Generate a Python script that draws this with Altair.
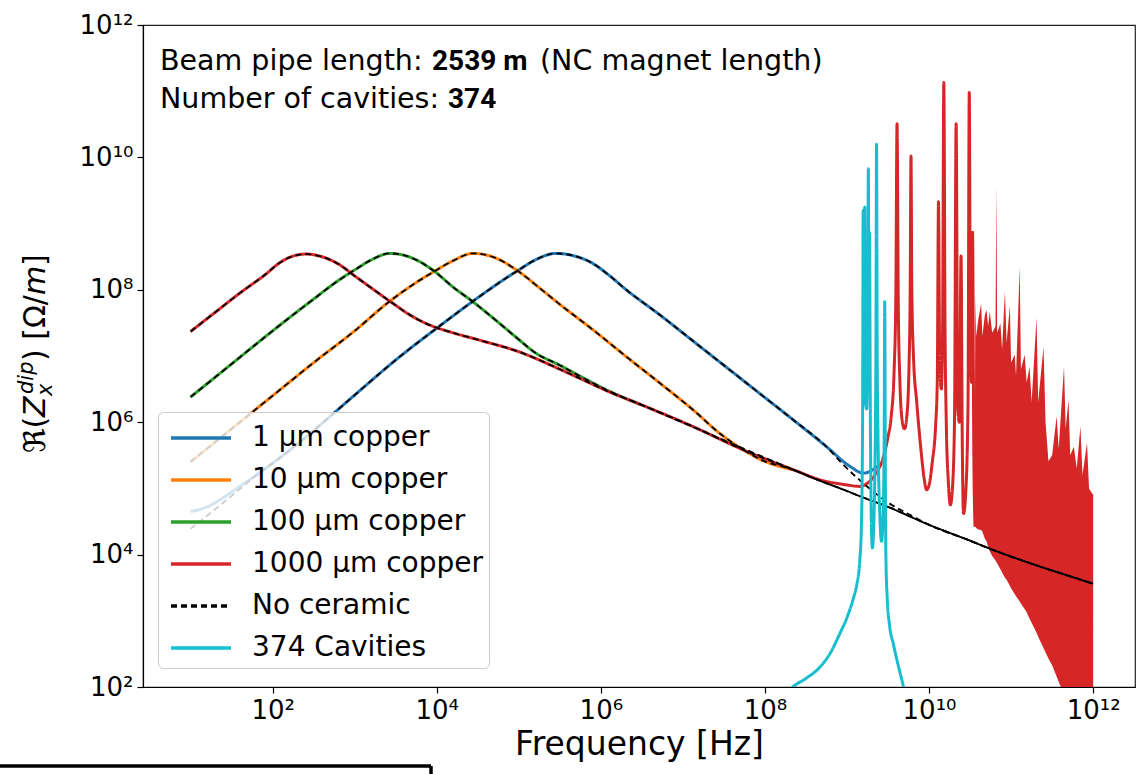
import altair as alt
import pandas as pd

# ---------------------------------------------------------------------------
# Series definitions (legend order, colours, dash patterns)
# ---------------------------------------------------------------------------
SERIES = ["1 µm copper", "10 µm copper", "100 µm copper", "1000 µm copper",
          "No ceramic", "374 Cavities"]
COLORS = ["#1f77b4", "#ff7f0e", "#2ca02c", "#d62728", "#000000", "#17becf"]
DASHES = [[1, 0], [1, 0], [1, 0], [1, 0], [6, 4], [1, 0]]

# Values are stored as decade exponents:
#   *_f -> log10(frequency / Hz),  *_z -> log10(Re Z / (Ohm/m))

cu1_f = [1.0, 1.2, 1.4, 1.6, 1.8, 2.0, 2.4, 2.74, 3.0, 3.55, 4.0, 4.5, 4.8, 5.0,
         5.2, 5.45, 5.65, 5.9, 6.1, 6.31, 6.72, 7.13, 7.53, 7.94, 8.35, 8.75,
         9.04, 9.2, 9.4]
cu1_z = [4.65, 4.72, 4.86, 5.03, 5.2, 5.38, 5.77, 6.13, 6.41, 6.99, 7.42, 7.88,
         8.14, 8.3, 8.45, 8.55, 8.52, 8.4, 8.22, 8.0, 7.62, 7.22, 6.83, 6.43,
         6.03, 5.63, 5.33, 5.23, 5.36]

cu10_f = [1.0, 1.5, 2.0, 2.5, 3.0, 3.43, 3.8, 4.0, 4.2, 4.44, 4.7, 4.97, 5.3,
          5.5, 5.91, 6.31, 6.72, 7.13, 7.45, 7.74, 7.94, 8.35]
cu10_z = [5.40, 5.90, 6.40, 6.90, 7.38, 7.83, 8.15, 8.30, 8.44, 8.55, 8.49,
          8.30, 7.98, 7.78, 7.39, 6.99, 6.59, 6.18, 5.83, 5.58, 5.44, 5.28]

cu100_f = [1.0, 1.5, 2.0, 2.5, 2.8, 3.0, 3.2, 3.43, 3.7, 3.95, 4.2, 4.44, 4.71,
           4.97, 5.2, 5.5, 5.8, 6.1, 6.48]
cu100_z = [6.38, 6.88, 7.38, 7.86, 8.14, 8.30, 8.45, 8.55, 8.48, 8.30, 8.04,
           7.82, 7.55, 7.28, 7.05, 6.86, 6.66, 6.47, 6.27]

cu1000_f = [1.0, 1.3, 1.6, 1.9, 2.1, 2.25, 2.41, 2.6, 2.8, 3.0, 3.2, 3.46, 3.7,
            3.91, 4.2, 4.52, 5.01, 5.5, 5.8, 6.1, 6.48, 7.13, 7.74, 8.35, 8.7,
            8.96, 9.16, 9.25, 9.35, 9.45,
            9.50, 9.54, 9.575, 9.595, 9.61, 9.625, 9.645, 9.67, 9.70, 9.73,
            9.755, 9.77, 9.78, 9.79, 9.81, 9.85, 9.90, 9.94, 9.97, 10.0,
            10.04, 10.08, 10.10, 10.115, 10.13, 10.15, 10.165, 10.18, 10.195, 10.21,
            10.235, 10.26, 10.285, 10.31, 10.33, 10.35, 10.37, 10.39, 10.405, 10.42,
            10.45, 10.475, 10.49, 10.505, 10.52, 10.53, 10.545, 10.56]
cu1000_z = [7.37, 7.66, 7.95, 8.22, 8.42, 8.51, 8.54, 8.50, 8.39, 8.21, 8.03,
            7.80, 7.60, 7.47, 7.35, 7.24, 7.06, 6.80, 6.63, 6.46, 6.27, 5.93,
            5.58, 5.28, 5.12, 5.06, 5.03, 5.08, 5.22, 5.50,
            5.78, 6.1, 6.8, 7.9, 10.51, 7.8, 6.6, 6.05, 5.90, 6.1,
            6.8, 8.0, 10.02, 8.0, 7.0, 6.3, 5.6, 5.15, 4.98, 5.05,
            5.4, 5.95, 6.6, 9.33, 6.9, 6.5, 7.4, 11.13, 7.4, 6.0,
            5.1, 4.75, 5.0, 6.0, 10.51, 6.2, 6.0, 8.51, 5.7, 4.62,
            5.0, 6.3, 10.98, 7.0, 6.6, 8.87, 5.6, 4.42]

# densely oscillating part of the copper curves: lower / upper envelope
band_f = [10.555, 10.565, 10.575, 10.60, 10.635, 10.65, 10.68, 10.70, 10.72, 10.74,
          10.77, 10.81, 10.82, 10.83, 10.87, 10.89, 10.925, 10.945, 10.985, 11.0,
          11.045, 11.06, 11.105, 11.12, 11.165, 11.19, 11.225, 11.25, 11.31, 11.33,
          11.395, 11.42, 11.455, 11.5, 11.555, 11.58, 11.645, 11.665, 11.70, 11.72,
          11.765, 11.80, 11.845, 11.87, 11.925, 11.95, 11.99, 12.0]
band_lo = [4.42, 4.42, 4.40, 4.38, 4.37, 4.35, 4.24, 4.20, 4.12, 4.05,
           3.98, 3.91, 3.89, 3.87, 3.78, 3.73, 3.65, 3.62, 3.53, 3.49,
           3.40, 3.37, 3.29, 3.26, 3.18, 3.13, 3.03, 2.97, 2.82, 2.76,
           2.59, 2.52, 2.43, 2.33, 2.16, 2.08, 1.88, 1.82, 1.72, 1.66,
           1.53, 1.43, 1.30, 1.22, 1.06, 0.99, 0.87, 0.85]
band_hi = [5.0, 7.92, 7.3, 7.55, 7.79, 7.3, 7.62, 7.70, 7.45, 7.67,
           7.35, 7.45, 9.59, 7.35, 7.49, 7.1, 7.98, 7.2, 7.76, 6.9,
           7.02, 6.7, 8.35, 6.8, 7.02, 6.6, 6.84, 6.3, 7.58, 6.3,
           7.14, 6.0, 5.41, 5.5, 6.09, 5.6, 6.84, 5.9, 6.34, 5.5,
           5.63, 5.3, 5.94, 5.2, 5.69, 5.0, 4.92, 4.92]

# smooth high-frequency part shared by all "no ceramic" curves
asym_f = [8.35, 8.6, 8.96, 9.16, 9.5, 10.0, 10.5, 10.78, 11.0, 11.35, 11.7, 12.0]
asym_z = [5.28, 5.15, 4.98, 4.88, 4.72, 4.45, 4.21, 4.07, 3.97, 3.82, 3.68, 3.56]

# pieces where the 1 µm "no ceramic" curve departs from the coated one
nc1_head_f = [1.0, 1.6]
nc1_head_z = [4.39, 4.99]
nc1_tail_f = [8.96, 9.16, 9.52, 9.8]
nc1_tail_z = [5.35, 5.12, 4.77, 4.58]

cav_f = [8.2, 8.34, 8.5, 8.67, 8.8, 8.91, 9.0, 9.08, 9.12, 9.155,
         9.175, 9.19, 9.197, 9.204, 9.21, 9.217, 9.225, 9.24, 9.253, 9.26,
         9.267, 9.274, 9.285, 9.30, 9.31, 9.325, 9.34, 9.352, 9.36, 9.368,
         9.38, 9.40, 9.42, 9.44, 9.452, 9.46, 9.468, 9.475, 9.49, 9.52,
         9.565, 9.61, 9.65, 9.69, 9.75]
cav_z = [1.8, 2.0, 2.13, 2.30, 2.52, 2.80, 3.05, 3.35, 3.55, 3.9,
         4.4, 6.0, 9.2, 6.3, 6.5, 9.25, 6.3, 6.2, 7.5, 9.83,
         7.6, 8.87, 6.0, 4.3, 4.1, 4.4, 5.3, 7.0, 10.2, 7.0,
         5.6, 4.6, 4.2, 4.6, 5.6, 7.82, 5.0, 3.9, 3.35, 2.92,
         2.65, 2.40, 2.2, 2.0, 1.75]

TICKS = [1e2, 1e4, 1e6, 1e8, 1e10, 1e12]


# ---------------------------------------------------------------------------
def frame(fs, zs, series, curve=None):
    df = pd.DataFrame({"f": [10.0 ** v for v in fs], "z": [10.0 ** v for v in zs]})
    df["series"] = series
    df["curve"] = curve if curve is not None else series
    return df


def part(fs, zs, lo, hi):
    pairs = [(a, b) for a, b in zip(fs, zs) if lo <= a <= hi]
    return [p[0] for p in pairs], [p[1] for p in pairs]


def joined(*pieces):
    fs, zs = [], []
    for a, b in pieces:
        fs += list(a)
        zs += list(b)
    return fs, zs


# "No ceramic" curves: follow the coated curves, then the common tail
nc_curves = [
    ("nc1", joined((nc1_head_f, nc1_head_z), part(cu1_f, cu1_z, 1.7, 8.8),
                   (nc1_tail_f, nc1_tail_z), part(asym_f, asym_z, 9.9, 13))),
    ("nc10", joined(part(cu10_f, cu10_z, 0, 8.0), part(asym_f, asym_z, 8.3, 13))),
    ("nc100", joined(part(cu100_f, cu100_z, 0, 6.5), part(asym_f, asym_z, 8.3, 13))),
    ("nc1000", joined(part(cu1000_f, cu1000_z, 0, 8.0), part(asym_f, asym_z, 8.3, 13))),
]
nc_df = pd.concat([frame(fz[0], fz[1], "No ceramic", name) for name, fz in nc_curves])

band_df = pd.DataFrame({
    "f": [10.0 ** v for v in band_f],
    "lo": [10.0 ** v for v in band_lo],
    "hi": [10.0 ** v for v in band_hi],
})

# ---------------------------------------------------------------------------
FONT = "DejaVu Sans"
sup_expr = ("'10' + replace(replace(replace(replace(replace(replace("
            "format(round(log(datum.value) / LN10), 'd'),"
            " '0', '⁰'), '1', '¹'), '2', '²'), '4', '⁴'), '6', '⁶'), '8', '⁸')")

x_scale = alt.Scale(type="log", domain=[10 ** 0.42, 10 ** 12.51], nice=False)
y_scale = alt.Scale(type="log", domain=[1e2, 1e12], nice=False)

axis_common = dict(values=TICKS, labelExpr=sup_expr, grid=False, tickSize=6,
                   tickWidth=1.2, tickColor="black", domainColor="black",
                   domainWidth=1.2, labelFont=FONT, labelFontSize=26,
                   labelColor="black", labelPadding=4, labelFlush=False,
                   labelOverlap=False)
x_axis = alt.Axis(**axis_common, titleFont=FONT, titleFontSize=33,
                  titleFontWeight="normal", titleColor="black",
                  titleY=67, titleBaseline="alphabetic")
y_axis = alt.Axis(**axis_common, title=None)

legend = alt.Legend(title=None, orient="none", legendX=15, legendY=387,
                    direction="vertical",
                    symbolType="M-1.667,0H1.667", symbolSize=1296,
                    symbolStrokeWidth=3.5, symbolOffset=17, labelOffset=31,
                    labelFont=FONT, labelFontSize=28, labelColor="black",
                    labelLimit=500, rowPadding=8, padding=6,
                    fillColor="rgba(255,255,255,0.8)", strokeColor="#cccccc",
                    cornerRadius=5)

X = alt.X("f:Q", scale=x_scale, axis=x_axis, title="Frequency [Hz]")
Y = alt.Y("z:Q", scale=y_scale, axis=y_axis, title=None)
COLOR = alt.Color("series:N", scale=alt.Scale(domain=SERIES, range=COLORS), legend=legend)
DASH = alt.StrokeDash("series:N", scale=alt.Scale(domain=SERIES, range=DASHES), legend=legend)


def curve_layer(df, width=3.0):
    return alt.Chart(df).mark_line(strokeWidth=width, strokeJoin="round",
                                   interpolate="monotone", clip=True).encode(
        x=X, y=Y, color=COLOR, strokeDash=DASH, detail="curve:N")


layers = [
    curve_layer(frame(cu1_f, cu1_z, SERIES[0])),
    curve_layer(frame(cu10_f, cu10_z, SERIES[1])),
    curve_layer(frame(cu100_f, cu100_z, SERIES[2])),
    curve_layer(frame(cu1000_f, cu1000_z, SERIES[3])),
    alt.Chart(band_df).mark_area(color=COLORS[3], clip=True, interpolate="linear").encode(
        x=X, y=alt.Y("lo:Q", scale=y_scale, axis=y_axis, title=None), y2="hi:Q"),
    curve_layer(nc_df, width=1.8),
    curve_layer(frame(cav_f, cav_z, SERIES[5])),
]

ONE = alt.Data(values=[{"k": 1}])


def text(s, x, y, size, angle=0, style="normal", weight="normal", font=FONT):
    return alt.Chart(ONE).mark_text(
        text=s, font=font, fontSize=size, fontStyle=style, fontWeight=weight,
        angle=angle, align="left", baseline="alphabetic", color="black"
    ).encode(x=alt.value(x), y=alt.value(y))


# annotation in the upper-left corner
layers += [
    text("Beam pipe length:", 17, 45, 28.5),
    text("2539 m", 289, 45, 28, weight="bold", font="Roboto"),
    text("(NC magnet length)", 397, 45, 28.5),
    text("Number of cavities:", 17, 83, 28.5),
    text("374", 305, 83, 28, weight="bold", font="Roboto"),
]

# rotated y-axis title  ℜ(Z_x^dip) [Ω/m]
layers += [
    text("ℜ(", -98, 428, 30, angle=270),
    text("Z", -98, 392, 30, angle=270, style="italic"),
    text("x", -91, 371, 21, angle=270, style="italic"),
    text("dip", -110, 369, 21, angle=270, style="italic"),
    text(") [Ω/", -98, 336, 30, angle=270),
    text("m", -98, 270, 30, angle=270, style="italic"),
    text("]", -98, 241, 30, angle=270),
]

# corner of a framed box below the plot
layers += [
    alt.Chart(ONE).mark_rule(color="black", strokeWidth=3.5).encode(
        x=alt.value(-143), x2=alt.value(288), y=alt.value(741)),
    alt.Chart(ONE).mark_rule(color="black", strokeWidth=3.5).encode(
        x=alt.value(288), y=alt.value(741), y2=alt.value(760)),
]

chart = alt.layer(*layers).properties(
    width=992, height=662,
    autosize=alt.AutoSizeParams(type="none"),
    padding={"left": 143, "top": 25, "right": 1, "bottom": 87},
).configure(background="white").configure_view(stroke="#222222", strokeWidth=1.2)

chart.save("out.html", embed_options={"renderer": "svg", "actions": False})
